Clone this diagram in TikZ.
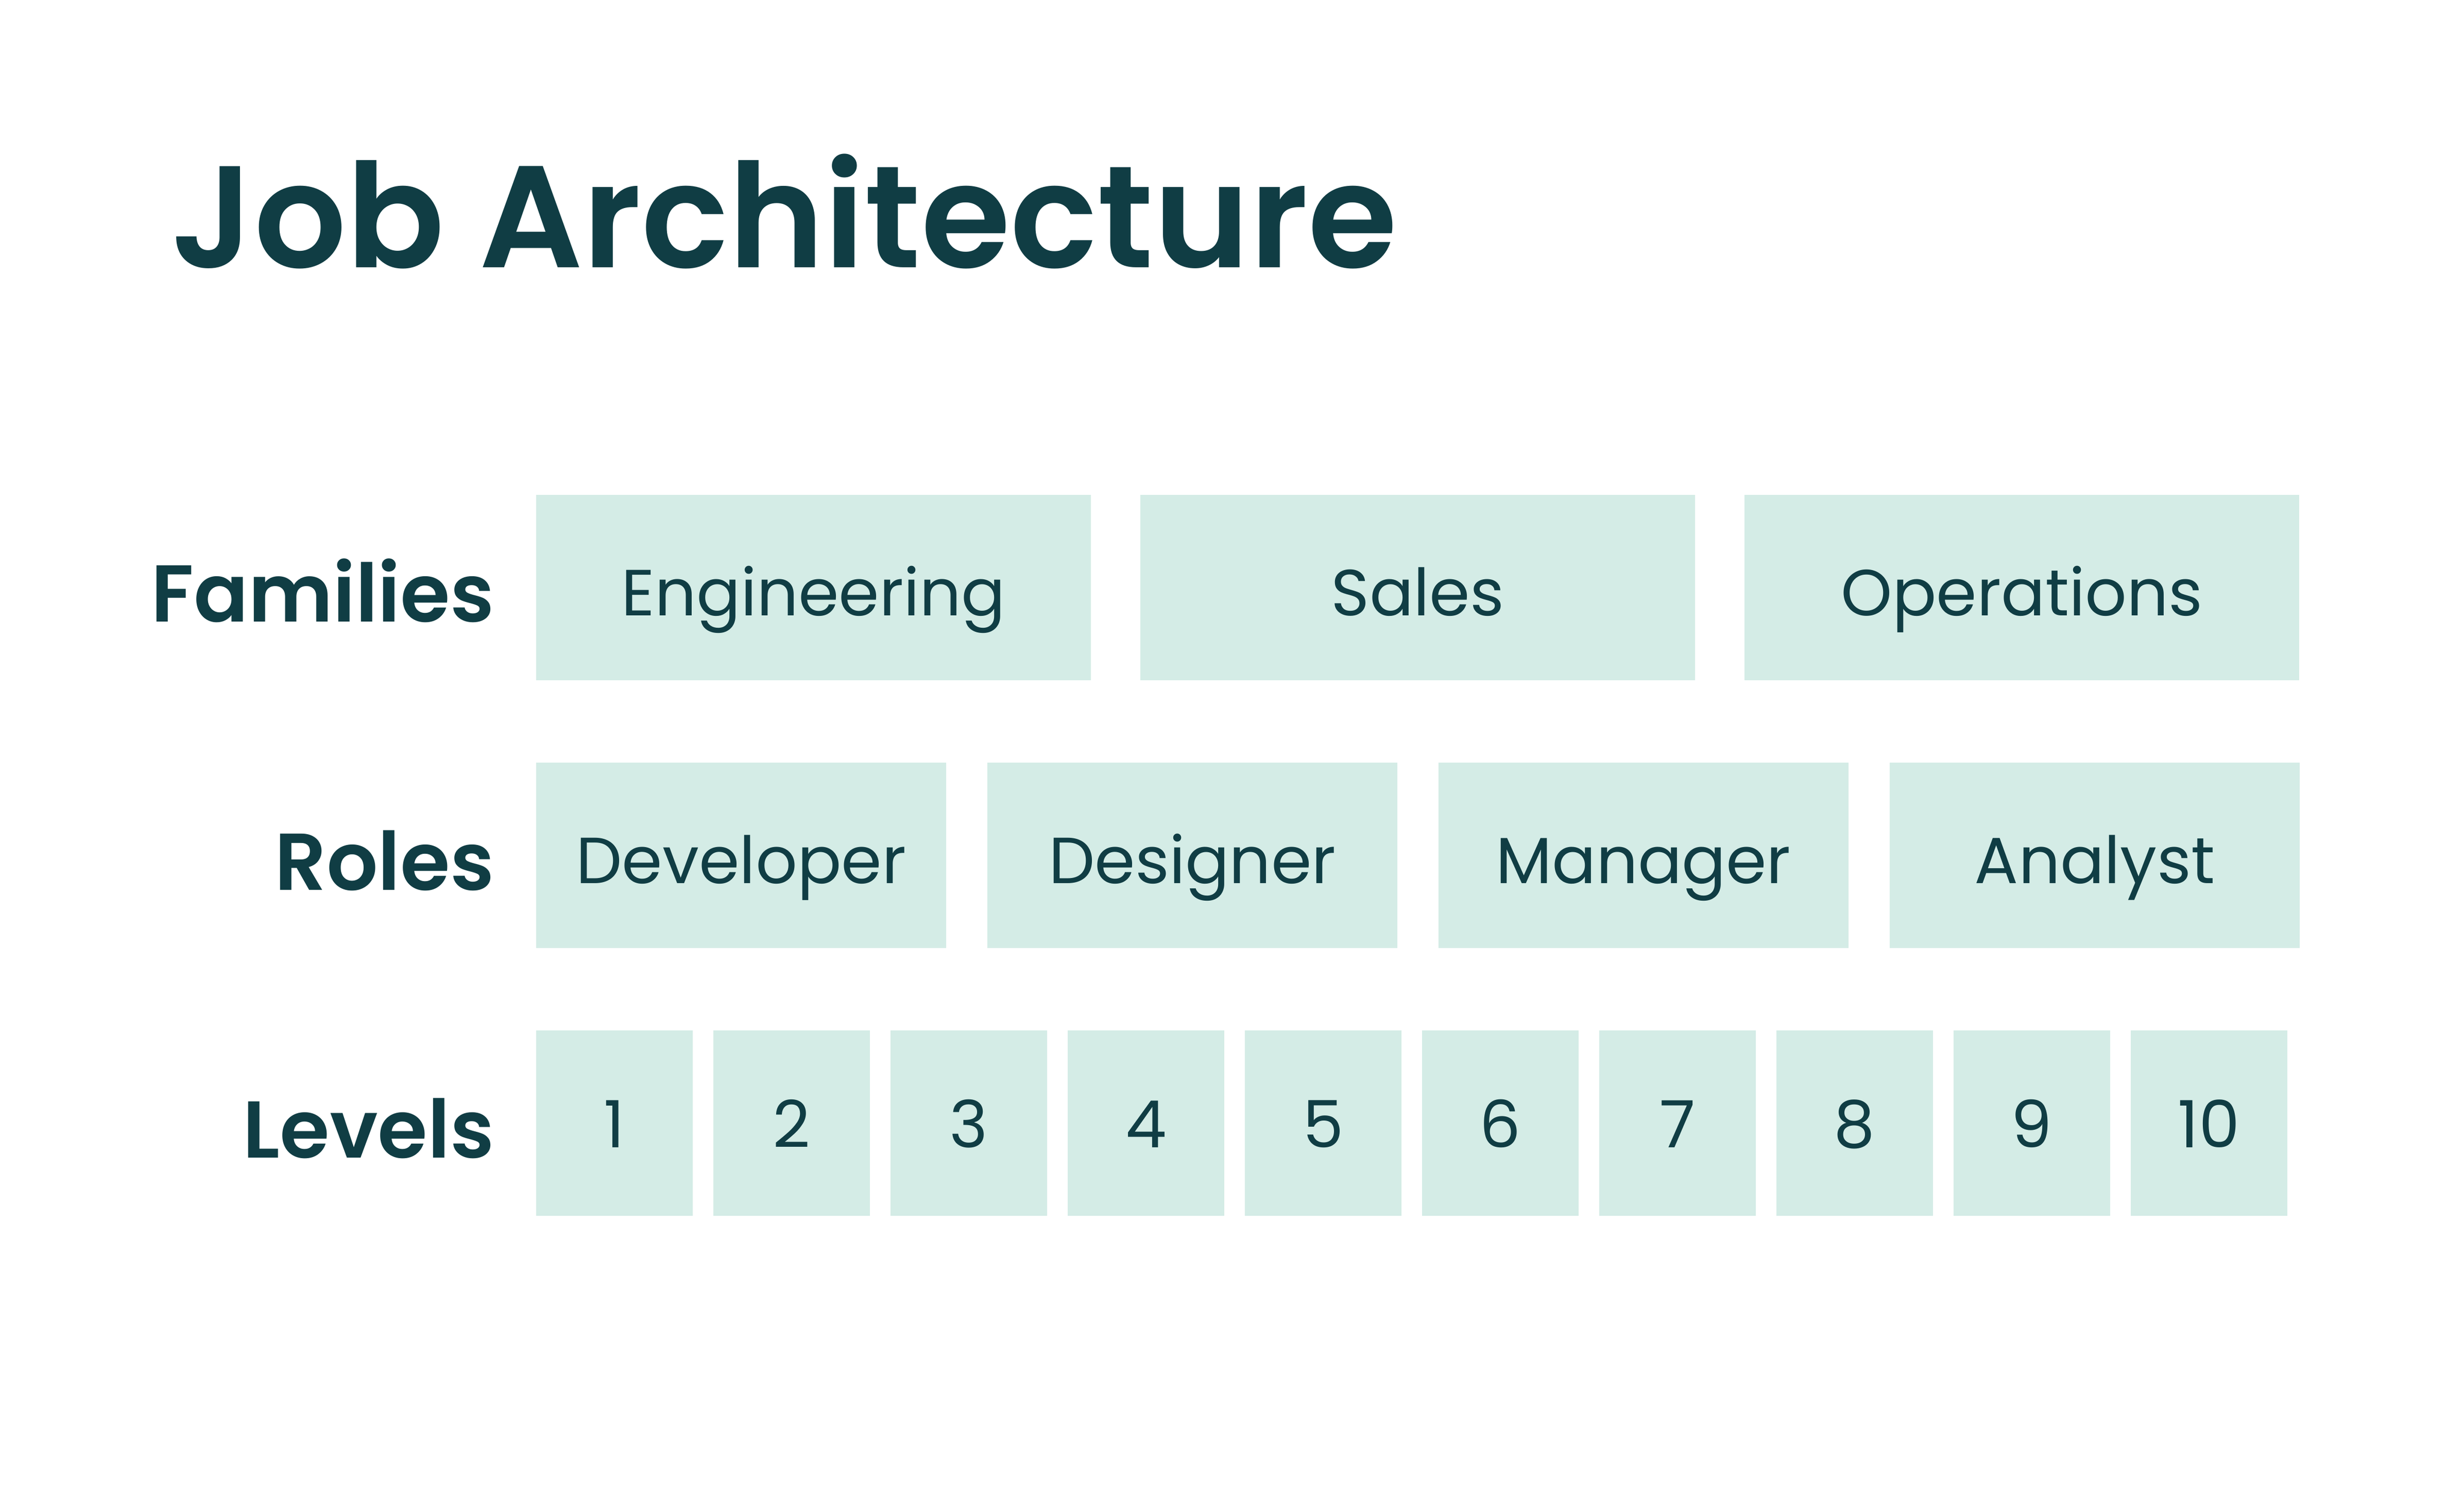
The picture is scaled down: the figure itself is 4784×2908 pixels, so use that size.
\documentclass[tikz,border=0pt]{standalone}
\usepackage{fontspec}
\setmainfont{Poppins}
\newfontfamily\jobsemi{Poppins SemiBold}
\usetikzlibrary{positioning}

\definecolor{jobink}{RGB}{16,61,68}
\definecolor{jobfill}{RGB}{212,236,230}

\tikzset{
  cell/.style={fill=jobfill, text=jobink, inner sep=0pt, anchor=north west,
    minimum height=3.6cm, text height=1.1cm, text depth=0pt,
    font=\fontsize{36}{36}\selectfont},
  rowlabel/.style={anchor=base east, inner sep=0pt, text=jobink,
    font=\jobsemi\fontsize{44.5}{44.5}\selectfont},
}

\begin{document}
\begin{tikzpicture}[x=0.01cm,y=-0.01cm]
  \useasboundingbox (0,0) rectangle (4784,2908);
  \fill[white] (0,0) rectangle (4784,2908);

  % title
  \node[anchor=base west, inner sep=0pt, text=jobink,
        font=\jobsemi\fontsize{80}{80}\selectfont] (title) at (332,519) {Job Architecture};

  % row labels
  \node[rowlabel] (families) at (960,1207) {Families};
  \node[rowlabel] (roles) at (960,1728) {Roles};
  \node[rowlabel] (levels) at (960,2248) {Levels};

  % families
  \foreach \name [count=\i from 0] in {Engineering, Sales, Operations}
    \node[cell, minimum width=10.77cm] (fam\i) at (1040+\i*1173,960) {\name};

  % roles
  \foreach \name [count=\i from 0] in {Developer, Designer, Manager, Analyst}
    \node[cell, minimum width=7.96cm] (role\i) at (1040+\i*876,1480) {\name};

  % levels
  \foreach \i in {1,...,10}
    \node[cell, minimum width=3.04cm, text height=0.95cm] (lvl\i) at (1040+\i*344-344,2000) {\i};
\end{tikzpicture}
\end{document}
